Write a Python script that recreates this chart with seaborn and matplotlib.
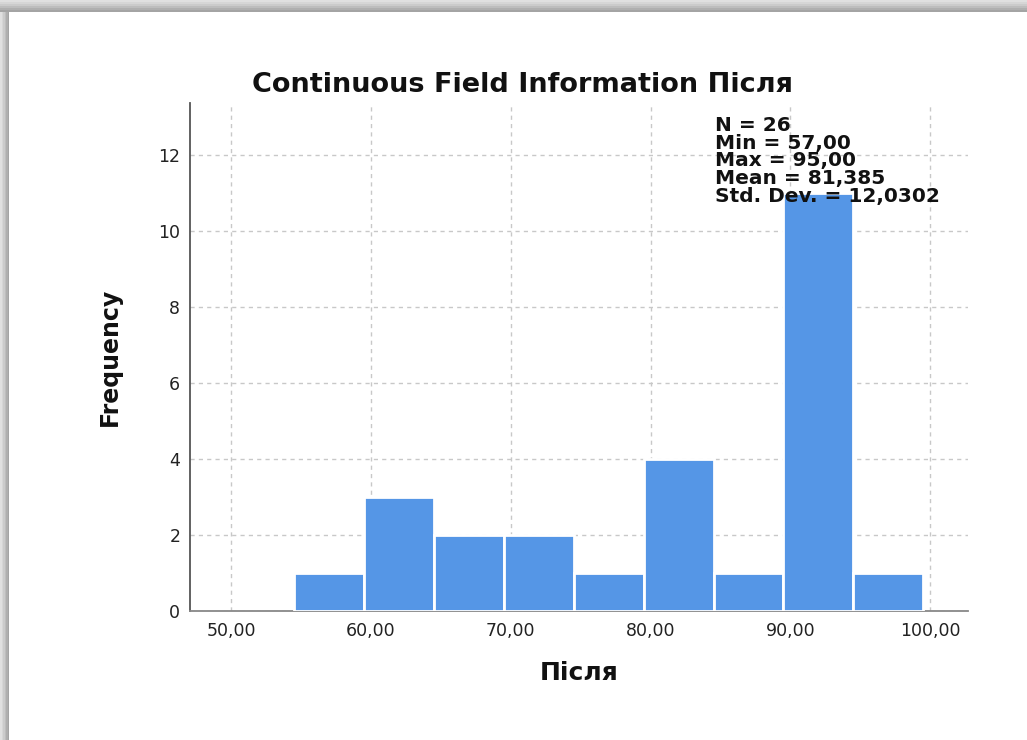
import numpy as np
import matplotlib
matplotlib.use("Agg")
import matplotlib.pyplot as plt
from matplotlib.patches import Rectangle
import seaborn as sns

# histogram data
bin_edges = [54.5, 59.5, 64.5, 69.5, 74.5, 79.5, 84.5, 89.5, 94.5, 99.5]
counts = [1, 3, 2, 2, 1, 4, 1, 11, 1]
x_ticks = [50, 60, 70, 80, 90, 100]
y_ticks = [0, 2, 4, 6, 8, 10, 12]
stats_lines = ["N = 26", "Min = 57,00", "Max = 95,00", "Mean = 81,385", "Std. Dev. = 12,0302"]

bin_mids = [(a + b) / 2 for a, b in zip(bin_edges[:-1], bin_edges[1:])]

sns.set_style("white")
plt.rcParams['font.family'] = ['DejaVu Sans']

fig = plt.figure(figsize=(10.27, 7.40), dpi=100)
ax = fig.add_axes([0.185, 0.1743, 0.7576, 0.6865])

sns.histplot(x=bin_mids, weights=counts, bins=bin_edges, color="#5596e6",
             edgecolor="white", linewidth=2, alpha=1, ax=ax, zorder=3)

ax.set_xlim(47.07, 102.7)
ax.set_ylim(0, 13.37)
ax.set_xticks(x_ticks)
ax.set_xticklabels(["%d,00" % t for t in x_ticks])
ax.set_yticks(y_ticks)
ax.tick_params(length=0, labelsize=12.5, colors="#222222")
ax.tick_params(axis="x", pad=8)
ax.tick_params(axis="y", pad=7)

ax.grid(True, color="#c8c8c8", linestyle=(0, (3, 3)), linewidth=1, zorder=0)
ax.set_axisbelow(True)
for s in ["top", "right"]:
    ax.spines[s].set_visible(False)
ax.spines["left"].set_color("#555555")
ax.spines["left"].set_linewidth(1.3)
ax.spines["bottom"].set_color("#888888")
ax.spines["bottom"].set_linewidth(1.3)

ax.set_xlabel("Після", fontsize=18, fontweight="bold", labelpad=15, color="#111111")
ax.set_ylabel("Frequency", fontsize=17, fontweight="semibold",
              labelpad=26, color="#111111")

fig.text(523 / 1027, 1 - 85 / 740, "Continuous Field Information Після",
         ha="center", va="center", fontsize=19.5, fontweight="bold", color="#111111")

ax.text(715 / 1027, 1 - 116 / 740, "\n".join(stats_lines), transform=fig.transFigure,
        ha="left", va="top", fontsize=14.5, fontweight="bold", linespacing=0.91,
        color="#111111", zorder=5)

# screenshot shadow at top and left edges
shades = ["#e0e0e0", "#d6d6d6", "#cbcbcb", "#bdbdbd", "#afafaf", "#a4a4a4"]
for i, c in enumerate(shades):
    fig.add_artist(Rectangle((0, 1 - (2 * i + 2) / 740), 1, 2 / 740,
                             transform=fig.transFigure, color=c, lw=0))
    fig.add_artist(Rectangle((1.5 * i / 1027, 0), 1.5 / 1027, 1 - 10 / 740,
                             transform=fig.transFigure, color=c, lw=0))

fig.savefig("out.png", dpi=100)
